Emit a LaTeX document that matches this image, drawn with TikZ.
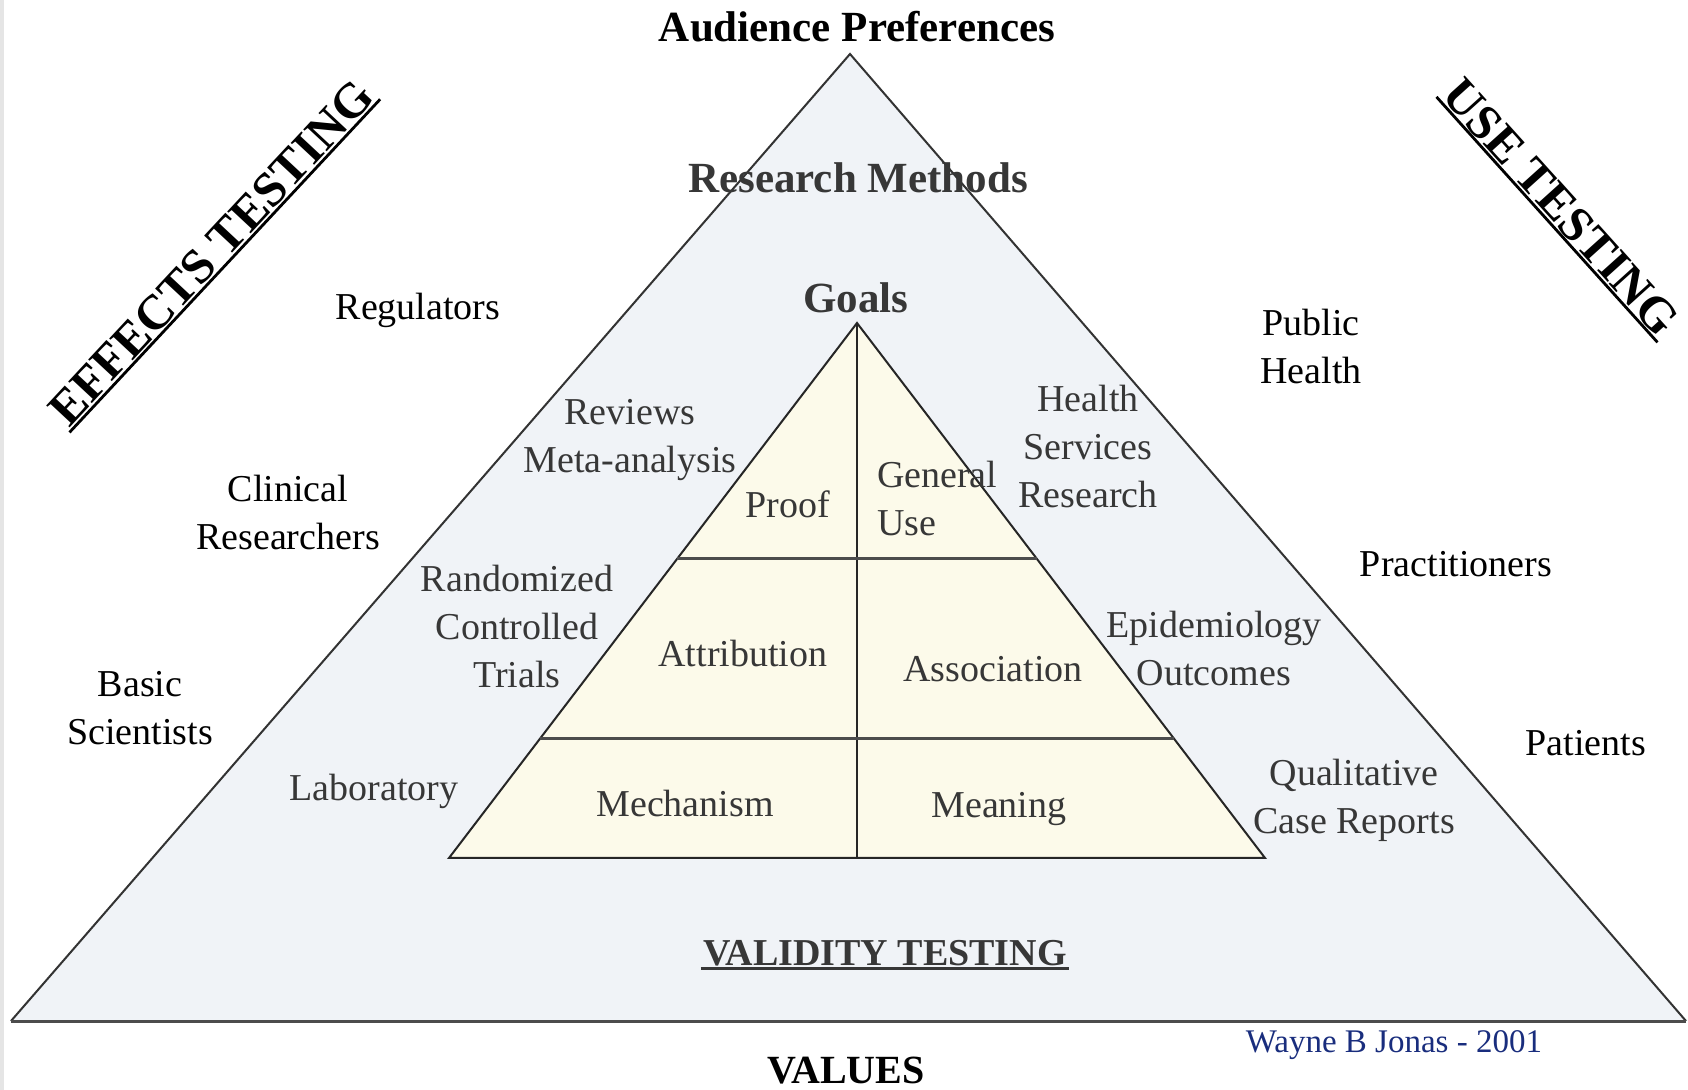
\documentclass[tikz,border=0pt]{standalone}
\usepackage{fontspec}
\setmainfont{Liberation Serif}
\usetikzlibrary{calc}

\definecolor{outerfill}{RGB}{240,243,247}
\definecolor{innerfill}{RGB}{252,250,234}
\definecolor{labelgray}{RGB}{55,55,55}
\definecolor{signblue}{RGB}{25,45,125}

\begin{document}
\begin{tikzpicture}[x=0.5pt, y=-0.5pt,
	lbl/.style={align=center, font=\fontsize{19pt}{24pt}\selectfont},
	inlbl/.style={lbl, text=labelgray},
	head/.style={font=\fontsize{21.5pt}{26pt}\selectfont\bfseries},
	testing/.style={font=\fontsize{24.5pt}{30pt}\selectfont\bfseries, inner sep=1pt}]
	\useasboundingbox (0,0) rectangle (1688,1090);
	\fill[gray!20] (0,0) rectangle (4,1090);

	% outer triangle
	\coordinate (top) at (850,54);
	\coordinate (bl) at (11,1021);
	\coordinate (br) at (1686,1021);
	\fill[outerfill] (top) -- (bl) -- (br) -- cycle;
	\draw[line width=1pt, black!80] (bl) -- (top) -- (br);
	\draw[line width=1.5pt, black!70] (bl) -- (br);

	% inner triangle
	\coordinate (itop) at (857,323);
	\coordinate (ibl) at (449,858);
	\coordinate (ibr) at (1265,858);
	\fill[innerfill] (itop) -- (ibl) -- (ibr) -- cycle;
	\draw[line width=1pt, black!85] (itop) -- (ibl) -- (ibr) -- cycle;
	\draw[line width=1pt, black!85] (itop) -- ($(ibl)!0.5!(ibr)$);
	\draw[line width=1.5pt, black!70] ($(itop)!0.441!(ibl)$) -- ($(itop)!0.441!(ibr)$);
	\draw[line width=1.5pt, black!70] ($(itop)!0.776!(ibl)$) -- ($(itop)!0.776!(ibr)$);

	\node[head] (aud) at (857,27) {Audience Preferences};
	\node[head, text=labelgray] (meth) at (858,178) {Research Methods};
	\node[head, text=labelgray] (goals) at (856,298) {Goals};

	\node[testing, rotate=47] (eff) at (211,253) {EFFECTS TESTING};
	\draw[line width=1.4pt] (eff.south west) -- (eff.south east);
	\node[testing, rotate=-48] (use) at (1561,207) {USE TESTING};
	\draw[line width=1.4pt] (use.south west) -- (use.south east);

	% audiences
	\node[lbl] (reg) at (418,310) {Regulators};
	\node[lbl] (clin) at (288,513) {Clinical\\Researchers};
	\node[lbl] (basic) at (140,708) {Basic\\Scientists};
	\node[lbl] (pub) at (1311,347) {Public\\Health};
	\node[lbl] (prac) at (1456,564) {Practitioners};
	\node[lbl] (pat) at (1586,743) {Patients};

	% methods
	\node[inlbl] (rev) at (630,440) {Reviews\\Meta-analysis};
	\node[inlbl] (rct) at (517,627) {Randomized\\Controlled\\Trials};
	\node[inlbl] (lab) at (374,791) {Laboratory};
	\node[inlbl] (hsr) at (1088,447) {Health\\Services\\Research};
	\node[inlbl] (epi) at (1214,649) {Epidemiology\\Outcomes};
	\node[inlbl] (qual) at (1354,800) {Qualitative\\Case Reports};

	% goals
	\node[inlbl] (proof) at (788,504) {Proof};
	\node[inlbl, align=left, anchor=west] (gen) at (870,499) {General\\Use};
	\node[inlbl] (attr) at (743,654) {Attribution};
	\node[inlbl] (assoc) at (993,669) {Association};
	\node[inlbl] (mech) at (685,804) {Mechanism};
	\node[inlbl] (mean) at (999,809) {Meaning};

	\node[font=\fontsize{19pt}{24pt}\selectfont\bfseries, text=labelgray, inner sep=1pt] (valid) at (885,953) {VALIDITY TESTING};
	\draw[line width=1.4pt, labelgray] (valid.south west) -- (valid.south east);
	\node[font=\fontsize{20pt}{24pt}\selectfont\bfseries] (val) at (846,1071) {VALUES};
	\node[font=\fontsize{16.5pt}{20pt}\selectfont, text=signblue] (sign) at (1394,1045) {Wayne B Jonas - 2001};
\end{tikzpicture}
\end{document}
